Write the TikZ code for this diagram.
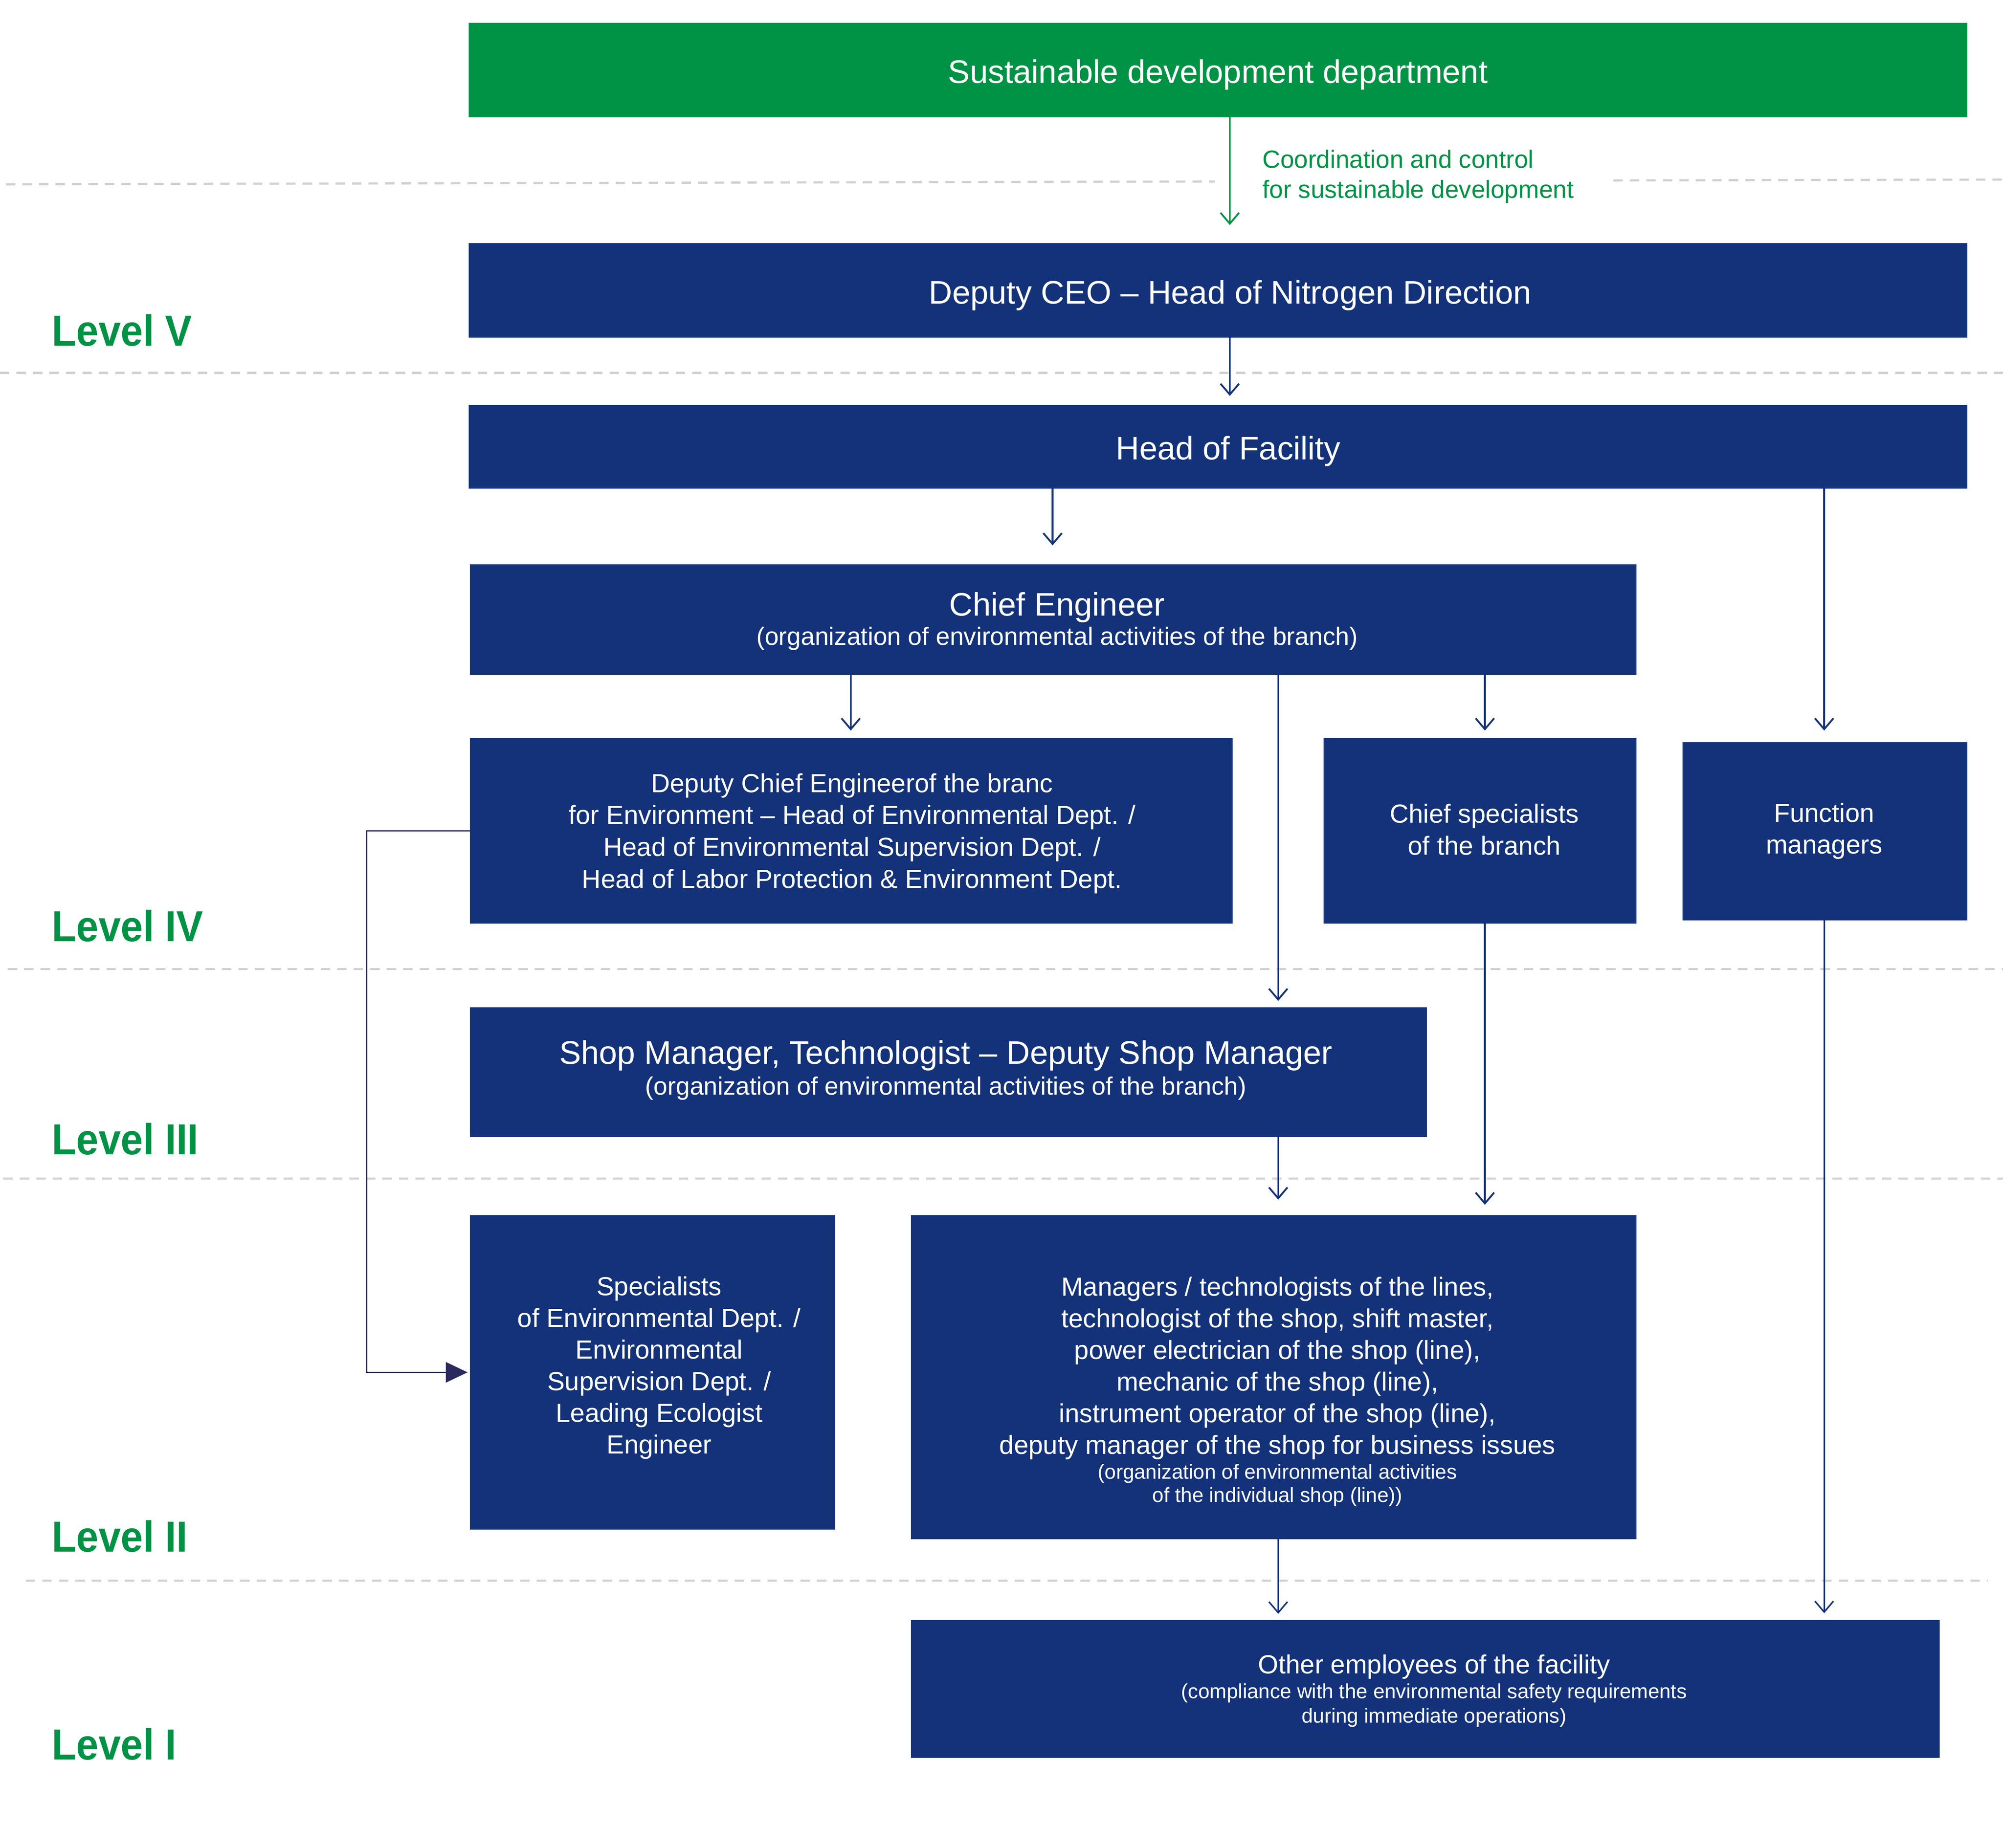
\documentclass[tikz,border=0pt]{standalone}
\usepackage{fontspec}
\setmainfont{Liberation Sans}
\newfontfamily\levelfont{Liberation Sans}[FakeStretch=0.92]
\usetikzlibrary{arrows.meta}
\definecolor{sdgreen}{RGB}{0,146,69}
\definecolor{navy}{RGB}{19,50,121}
\definecolor{dashgray}{RGB}{208,208,210}
\definecolor{elbowc}{RGB}{43,42,94}
\begin{document}
\begin{tikzpicture}[x=1pt,y=-1pt,
  box/.style={fill=navy, inner sep=0pt, outer sep=0pt},
  gbox/.style={fill=sdgreen, inner sep=0pt, outer sep=0pt},
  lbl/.style={text=white, align=center, inner sep=0pt, font=\fontsize{20.5}{24.8}\selectfont},
  big/.style={lbl, font=\fontsize{25.5}{30}\selectfont},
  levellbl/.style={text=sdgreen, inner sep=0pt, anchor=base west, font=\levelfont\bfseries\fontsize{34}{34}\selectfont},
  levelline/.style={draw=dashgray, line width=1.7pt, dash pattern=on 7.35pt off 5.55pt},
  arr/.style={draw=navy, line width=1.4pt, -{Straight Barb[length=8.5pt,width=14.5pt]}},
  garr/.style={arr, draw=sdgreen},
  elbow/.style={draw=elbowc, line width=0.9pt, -{Triangle[length=17pt,width=16pt]}}
]
\useasboundingbox (0,0) rectangle (1568,1446.9);
\fill[white] (0,0) rectangle (1568,1446.9);

% level separators
\draw[levelline] (4.7,144.3) -- (951,142.1);
\draw[levelline] (1263,141.3) -- (1568,140.6);
\draw[levelline] (0,292) -- (1568,292);
\draw[levelline] (6,758.8) -- (1568,758.8);
\draw[levelline] (2.6,922.8) -- (1568,922.8);
\draw[levelline] (20.3,1237.6) -- (1556.2,1237.6);

% level labels
\node[levellbl] (l5) at (40.5,270.7) {Level V};
\node[levellbl] (l4) at (40.5,737.2) {Level IV};
\node[levellbl] (l3) at (40.5,903.9) {Level III};
\node[levellbl] (l2) at (40.5,1214.9) {Level II};
\node[levellbl] (l1) at (40.5,1377.7) {Level I};

% boxes
\node[gbox, minimum width=1173pt, minimum height=74pt,
  label={[big,yshift=-3.6pt]center:{Sustainable development department}}] (green) at (953.5,55) {};
\node[box, minimum width=1173pt, minimum height=74.3pt,
  label={[big,xshift=9.5pt,yshift=-3.8pt]center:{Deputy CEO – Head of Nitrogen Direction}}] (ceo) at (953.5,227.35) {};
\node[box, minimum width=1173pt, minimum height=65.5pt,
  label={[big,xshift=8pt,yshift=-3.5pt]center:{Head of Facility}}] (fac) at (953.5,349.75) {};
\node[box, minimum width=913pt, minimum height=86.5pt,
  label={[big,font=\fontsize{25.5}{23.1}\selectfont,xshift=3pt,yshift=-1.2pt]center:{Chief Engineer\\{\fontsize{19.6}{24}\selectfont (organization of environmental activities of the branch)}}}] (chief) at (824.5,485.25) {};
\node[box, minimum width=597pt, minimum height=145pt,
  label={[lbl,font=\fontsize{20.5}{25}\selectfont,xshift=0.5pt,yshift=-2pt]center:{Deputy Chief Engineerof the branc\\for Environment – Head of Environmental Dept. /\\Head of Environmental Supervision Dept. /\\Head of Labor Protection \& Environment Dept.}}] (dep) at (666.5,650.5) {};
\node[box, minimum width=245pt, minimum height=145pt,
  label={[lbl,font=\fontsize{20.5}{25}\selectfont,xshift=3.5pt,yshift=1pt]center:{Chief specialists\\of the branch}}] (spec) at (1158.5,650.5) {};
\node[box, minimum width=223pt, minimum height=139.5pt,
  label={[lbl,font=\fontsize{20.5}{25}\selectfont,xshift=-0.5pt]center:{Function\\managers}}] (func) at (1428.5,650.75) {};
\node[box, minimum width=749pt, minimum height=101.7pt,
  label={[big,font=\fontsize{25.5}{24.1}\selectfont,xshift=-2pt,yshift=1.5pt]center:{Shop Manager, Technologist – Deputy Shop Manager\\{\fontsize{19.6}{24}\selectfont (organization of environmental activities of the branch)}}}] (shop) at (742.5,839.55) {};
\node[box, minimum width=286pt, minimum height=246pt,
  label={[lbl,xshift=5pt,yshift=3.5pt]center:{Specialists\\of Environmental Dept. /\\Environmental\\Supervision Dept. /\\Leading Ecologist\\Engineer}}] (speci) at (511,1074.5) {};
\node[box, minimum width=568pt, minimum height=253.7pt,
  label={[lbl,xshift=3pt,yshift=-11.4pt]center:{Managers / technologists of the lines,\\technologist of the shop, shift master,\\power electrician of the shop (line),\\mechanic of the shop (line),\\instrument operator of the shop (line),\\deputy manager of the shop for business issues\\[-5.3pt]{\fontsize{16}{18}\selectfont (organization of environmental activities}\\[-6.8pt]{\fontsize{16}{18}\selectfont of the individual shop (line))}}}] (mgr) at (997,1078.15) {};
\node[box, minimum width=805.3pt, minimum height=107.8pt,
  label={[lbl,font=\fontsize{20.5}{25}\selectfont,xshift=7pt,yshift=-1.4pt]center:{Other employees of the facility\\[-5.5pt]{\fontsize{16}{18}\selectfont (compliance with the environmental safety requirements}\\[-6pt]{\fontsize{16}{18}\selectfont during immediate operations)}}}] (other) at (1115.65,1322.5) {};

% green annotation
\node[anchor=west, align=left, text=sdgreen, inner sep=0pt, font=\fontsize{19.5}{23.6}\selectfont] (coordlbl) at (988,138.3) {Coordination and control\\for sustainable development};

% column coordinates
\coordinate (c963) at (962.7,0);
\coordinate (c824) at (824,0);
\coordinate (c1428) at (1428,0);
\coordinate (c666) at (666,0);
\coordinate (c1000) at (1000.6,0);
\coordinate (c1162) at (1162.4,0);
\coordinate (celb) at (287,0);

% connectors
\draw[garr, shorten >=14pt] (green.south -| c963) -- (ceo.north -| c963);
\draw[arr, shorten >=7pt] (ceo.south -| c963) -- (fac.north -| c963);
\draw[arr, shorten >=15pt] (fac.south -| c824) -- (chief.north -| c824);
\draw[arr, shorten >=9pt] (fac.south -| c1428) -- (func.north -| c1428);
\draw[arr, shorten >=6pt] (chief.south -| c666) -- (dep.north -| c666);
\draw[arr, shorten >=5pt] (chief.south -| c1000) -- (shop.north -| c1000);
\draw[arr, shorten >=6pt] (chief.south -| c1162) -- (spec.north -| c1162);
\draw[arr, shorten >=8pt] (spec.south -| c1162) -- (mgr.north -| c1162);
\draw[arr, shorten >=12pt] (shop.south -| c1000) -- (mgr.north -| c1000);
\draw[arr, line width=1.2pt, shorten >=5pt] (mgr.south -| c1000) -- (other.north -| c1000);
\draw[arr, line width=1.2pt, shorten >=5.5pt] (func.south -| c1428) -- (other.north -| c1428);
\draw[elbow, shorten >=2pt] (dep.west) -- (dep.west -| celb) |- (speci.west);
\end{tikzpicture}
\end{document}
